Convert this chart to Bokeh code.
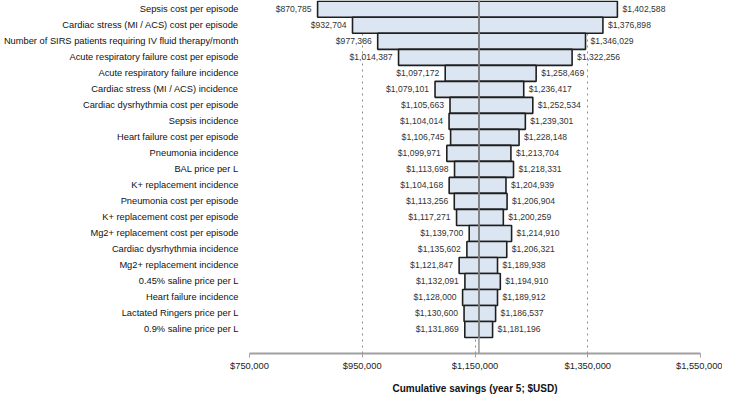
from bokeh.plotting import figure
from bokeh.models import ColumnDataSource, FixedTicker, NumeralTickFormatter, Span, Range1d
from bokeh.core.properties import value
from bokeh.embed import file_html
from bokeh.resources import INLINE

categories = [
    "Sepsis cost per episode",
    "Cardiac stress (MI / ACS) cost per episode",
    "Number of SIRS patients requiring IV fluid therapy/month",
    "Acute respiratory failure cost per episode",
    "Acute respiratory failure incidence",
    "Cardiac stress (MI / ACS) incidence",
    "Cardiac dysrhythmia cost per episode",
    "Sepsis incidence",
    "Heart failure cost per episode",
    "Pneumonia incidence",
    "BAL price per L",
    "K+ replacement incidence",
    "Pneumonia cost per episode",
    "K+ replacement cost per episode",
    "Mg2+ replacement cost per episode",
    "Cardiac dysrhythmia incidence",
    "Mg2+ replacement incidence",
    "0.45% saline price per L",
    "Heart failure incidence",
    "Lactated Ringers price per L",
    "0.9% saline price per L",
]
low_values = [870785, 932704, 977386, 1014387, 1097172, 1079101, 1105663, 1104014,
              1106745, 1099971, 1113698, 1104168, 1113256, 1117271, 1139700, 1135602,
              1121847, 1132091, 1128000, 1130600, 1131869]
high_values = [1402588, 1376898, 1346029, 1322256, 1258469, 1236417, 1252534, 1239301,
               1228148, 1213704, 1218331, 1204939, 1206904, 1200259, 1214910, 1206321,
               1189938, 1194910, 1189912, 1186537, 1181196]
base_case = 1157000
x_ticks = [750000, 950000, 1150000, 1350000, 1550000]
x_title = "Cumulative savings (year 5; $USD)"

n = len(categories)
ys = [n - 1 - i for i in range(n)]
src = ColumnDataSource(dict(
    y=ys,
    low=low_values,
    high=high_values,
    base=[base_case] * n,
    low_label=["${:,}".format(v) for v in low_values],
    high_label=["${:,}".format(v) for v in high_values],
))

FONT = "Liberation Sans"

p = figure(width=722, height=396, output_backend="svg", toolbar_location=None,
           x_range=Range1d(x_ticks[0], x_ticks[-1]), y_range=Range1d(-1.5, n - 0.45),
           min_border_left=0, min_border_top=0, min_border_right=22, min_border_bottom=0)
p.outline_line_color = None
p.background_fill_color = "white"

bar_kw = dict(height=1.0, fill_color="#dce6f2", line_color="#1f1f1f", line_width=1.6)
p.hbar(y="y", left="low", right="base", source=src, **bar_kw)
p.hbar(y="y", left="base", right="high", source=src, **bar_kw)

p.add_layout(Span(location=base_case, dimension="height", line_color="#9a9a9a", line_width=1.5))

txt_kw = dict(text_font=value(FONT), text_font_size="8.6px", text_color="#333333",
              text_baseline="middle")
p.text(x="low", y="y", text="low_label", text_align="right", x_offset=-6, source=src, **txt_kw)
p.text(x="high", y="y", text="high_label", text_align="left", x_offset=5, source=src, **txt_kw)

# x axis
p.xaxis.ticker = FixedTicker(ticks=x_ticks)
p.xaxis.formatter = NumeralTickFormatter(format="$0,0")
p.xaxis.axis_line_color = "#a0a0a0"
p.xaxis.axis_line_width = 2
p.xaxis.major_tick_line_color = "#a0a0a0"
p.xaxis.major_tick_out = 4
p.xaxis.major_tick_in = 0
p.xaxis.minor_tick_line_color = None
p.xaxis.major_label_text_font = FONT
p.xaxis.major_label_text_font_size = "9.3px"
p.xaxis.major_label_text_color = "#222222"
p.xaxis.major_label_standoff = 3
p.xaxis.axis_label = x_title
p.xaxis.axis_label_text_font = FONT
p.xaxis.axis_label_text_font_size = "10px"
p.xaxis.axis_label_text_font_style = "bold"
p.xaxis.axis_label_text_color = "#111111"
p.xaxis.axis_label_standoff = 9

# y axis with category names
p.yaxis.ticker = FixedTicker(ticks=ys)
p.yaxis.major_label_overrides = {y: c for y, c in zip(ys, categories)}
p.yaxis.axis_line_color = None
p.yaxis.major_tick_line_color = None
p.yaxis.minor_tick_line_color = None
p.yaxis.major_label_text_font = FONT
p.yaxis.major_label_text_font_size = "9.3px"
p.yaxis.major_label_text_color = "#111111"
p.yaxis.major_label_standoff = 5

p.ygrid.grid_line_color = None
p.xgrid.grid_line_color = "#8c8c8c"
p.xgrid.grid_line_dash = "dotted"
p.xgrid.grid_line_width = 1

open("out.html", "w").write(file_html(p, INLINE))
